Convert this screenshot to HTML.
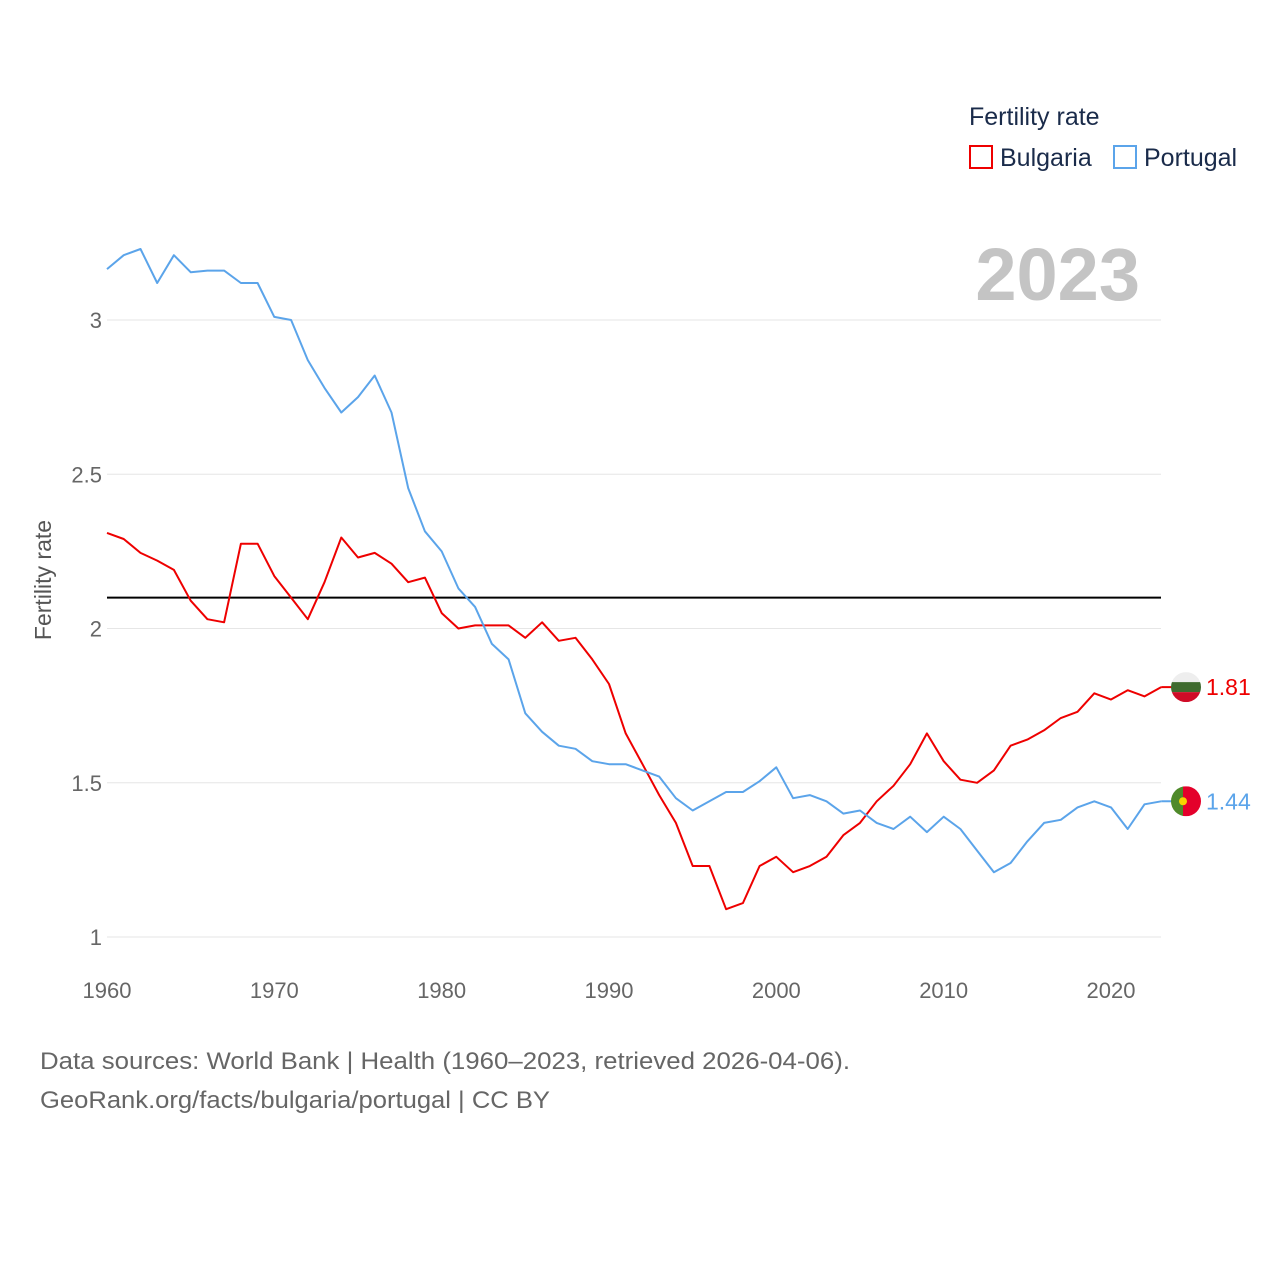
<!DOCTYPE html>
<html><head><meta charset="utf-8">
<style>
html,body{margin:0;padding:0;background:#fff;}
body{width:1280px;height:1280px;overflow:hidden;font-family:"Liberation Sans",sans-serif;}
</style></head>
<body>
<svg id="chart" width="1280" height="1280" viewBox="0 0 1280 1280">
<text x="969" y="125" font-size="25" fill="#1a2b4a">Fertility rate</text>
<rect x="970" y="146" width="22" height="22" fill="none" stroke="#ee0000" stroke-width="2"/>
<text x="1000" y="166" font-size="25" fill="#1a2b4a">Bulgaria</text>
<rect x="1114" y="146" width="22" height="22" fill="none" stroke="#5ba4ea" stroke-width="2"/>
<text x="1144" y="166" font-size="25" fill="#1a2b4a">Portugal</text>
<text x="1140" y="300" font-size="74" font-weight="bold" fill="#c4c4c4" text-anchor="end">2023</text>
<text transform="translate(51,580) rotate(-90)" font-size="23" fill="#555" text-anchor="middle">Fertility rate</text>
<g id="grid"></g><g id="lines"></g>
<text x="40" y="1069" font-size="24" fill="#666" textLength="810" lengthAdjust="spacingAndGlyphs">Data sources: World Bank | Health (1960–2023, retrieved 2026-04-06).</text>
<text x="40" y="1108" font-size="24" fill="#666" textLength="510" lengthAdjust="spacingAndGlyphs">GeoRank.org/facts/bulgaria/portugal | CC BY</text>
</svg>
<script>
const years=[];for(let y=1960;y<=2023;y++)years.push(y);
const yTicks=[1,1.5,2,2.5,3];
const yTickLabels=["1","1.5","2","2.5","3"];
const xTicks=[1960,1970,1980,1990,2000,2010,2020];
const replacement=2.1;
const bulgaria=[2.31,2.29,2.245,2.22,2.19,2.09,2.03,2.02,2.275,2.275,2.17,2.10,2.03,2.15,2.295,2.23,2.245,2.21,2.15,2.165,2.05,2.00,2.01,2.01,2.01,1.97,2.02,1.96,1.97,1.90,1.82,1.66,1.56,1.46,1.37,1.23,1.23,1.09,1.11,1.23,1.26,1.21,1.23,1.26,1.33,1.37,1.44,1.49,1.56,1.66,1.57,1.51,1.50,1.54,1.62,1.64,1.67,1.71,1.73,1.79,1.77,1.80,1.78,1.81];
const portugal=[3.165,3.21,3.23,3.12,3.21,3.155,3.16,3.16,3.12,3.12,3.01,3.00,2.87,2.78,2.70,2.75,2.82,2.70,2.455,2.315,2.25,2.13,2.07,1.95,1.90,1.725,1.665,1.62,1.61,1.57,1.56,1.56,1.54,1.52,1.45,1.41,1.44,1.47,1.47,1.505,1.55,1.45,1.46,1.44,1.40,1.41,1.37,1.35,1.39,1.34,1.39,1.35,1.28,1.21,1.24,1.31,1.37,1.38,1.42,1.44,1.42,1.35,1.43,1.44];
const X=y=>107+(y-1960)*(1111-107)/60;
const Y=v=>937-(v-1)*308.5;
const NS="http://www.w3.org/2000/svg";
const grid=document.getElementById('grid'),lines=document.getElementById('lines');
function mk(tag,attrs,parent){const e=document.createElementNS(NS,tag);for(const k in attrs)e.setAttribute(k,attrs[k]);parent.appendChild(e);return e;}
yTicks.forEach((t,i)=>{
 const l=mk('line',{x1:107,x2:1161,y1:Y(t),y2:Y(t),stroke:'#e6e6e6','stroke-width':1},grid);
 
 
 const tx=mk('text',{x:102,y:Y(t)+8,'font-size':22,fill:'#666','text-anchor':'end'},grid);
 tx.textContent=yTickLabels[i];
 
 
});
xTicks.forEach(t=>{
 const tx=mk('text',{x:X(t),y:998,'font-size':22,fill:'#666','text-anchor':'middle'},grid);
 tx.textContent=t;
 
 
});
const rl=mk('line',{x1:107,x2:1161,y1:Y(replacement),y2:Y(replacement),stroke:'#000','stroke-width':2},lines);


function series(vals,color,name){
 const d=vals.map((v,i)=>(i?'L':'M')+X(years[i]).toFixed(1)+' '+Y(v).toFixed(1)).join(' ');
 const p=mk('path',{d:d,fill:'none',stroke:color,'stroke-width':2,'stroke-linejoin':'round'},lines);
 
 
 const last=vals[vals.length-1],ly=Y(last),lx=X(years[years.length-1]);
 mk('line',{x1:lx,x2:1172,y1:ly,y2:ly,stroke:color,'stroke-width':2},lines);
 const t=mk('text',{x:1206,y:ly+8,'font-size':23,fill:color},lines);
 t.textContent=last.toFixed(2);
 
 
 return ly;
}
const by=series(bulgaria,'#ee0000','bulgaria');
const py=series(portugal,'#5ba4ea','portugal');
const fb=mk('g',{},lines);


mk('clipPath',{id:'cb'},fb).appendChild(document.createElementNS(NS,'circle'));
const cb=document.querySelector('#cb circle');cb.setAttribute('cx',1186);cb.setAttribute('cy',by);cb.setAttribute('r',15);
const gb=mk('g',{'clip-path':'url(#cb)'},fb);
mk('rect',{x:1171,y:by-15,width:30,height:10,fill:'#eee'},gb);
mk('rect',{x:1171,y:by-5,width:30,height:10,fill:'#3f6b2f'},gb);
mk('rect',{x:1171,y:by+5,width:30,height:10,fill:'#d00c27'},gb);
const fp=mk('g',{},lines);


mk('clipPath',{id:'cp'},fp).appendChild(document.createElementNS(NS,'circle'));
const cp=document.querySelector('#cp circle');cp.setAttribute('cx',1186);cp.setAttribute('cy',py);cp.setAttribute('r',15);
const gp=mk('g',{'clip-path':'url(#cp)'},fp);
mk('rect',{x:1171,y:py-15,width:12,height:30,fill:'#4f8a2a'},gp);
mk('rect',{x:1183,y:py-15,width:18,height:30,fill:'#e4002b'},gp);
mk('circle',{cx:1183,cy:py,r:4,fill:'#f6d400'},gp);
</script>
</body></html>
